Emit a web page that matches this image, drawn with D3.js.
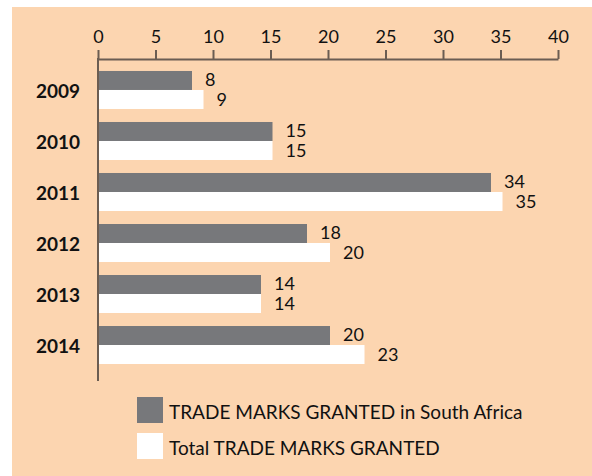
<!DOCTYPE html>
<html>
<head>
<meta charset="utf-8">
<script src="https://cdn.jsdelivr.net/npm/d3@7"></script>
<style>
  html, body { margin: 0; padding: 0; background: #fff; }
  text { font-family: Lato, "Noto Sans", sans-serif; fill: #111; }
</style>
</head>
<body>
<div id="chart"></div>
<script>
const years = ['2009', '2010', '2011', '2012', '2013', '2014'];
const southAfrica = [8, 15, 34, 18, 14, 20];
const total = [9, 15, 35, 20, 14, 23];
const xTicks = [0, 5, 10, 15, 20, 25, 30, 35, 40];
const seriesNames = ['TRADE MARKS GRANTED in South Africa', 'Total TRADE MARKS GRANTED'];
const seriesColors = ['#77787b', '#ffffff'];

const width = 592, height = 476;
const axisColor = '#6b5d52';

const svg = d3.select('#chart').append('svg')
  .attr('width', width).attr('height', height);

svg.append('rect')
  .attr('x', 12).attr('y', 7)
  .attr('width', width - 12).attr('height', height - 7)
  .attr('fill', '#fcd5b0');

const axisY = 59;
const x = d3.scaleLinear().domain([0, 40]).range([98, 558]);
const y = d3.scaleBand().domain(years)
  .range([axisY, 376]).paddingInner(0.255).paddingOuter(0.235);
const sub = d3.scaleBand().domain([0, 1]).range([0, y.bandwidth()]);

// top axis
const xAxis = svg.append('g').attr('transform', `translate(0,${axisY})`)
  .call(d3.axisTop(x).tickValues(xTicks).tickSize(9).tickPadding(7).tickSizeOuter(0));
xAxis.select('.domain').attr('stroke', axisColor).attr('stroke-width', 2);
xAxis.selectAll('.tick line').attr('stroke', axisColor).attr('stroke-width', 2);
xAxis.selectAll('.tick text')
  .attr('fill', '#111').attr('font-size', 18)
  .style('font-family', 'Lato, "Noto Sans", sans-serif');

// left axis line
svg.append('line')
  .attr('x1', x(0)).attr('x2', x(0))
  .attr('y1', axisY - 1).attr('y2', 381)
  .attr('stroke', axisColor).attr('stroke-width', 2);

const rows = years.map((yr, i) => ({ yr, vals: [southAfrica[i], total[i]] }));

const groups = svg.selectAll('g.row').data(rows).join('g')
  .attr('class', 'row')
  .attr('transform', d => `translate(0,${y(d.yr)})`);

groups.selectAll('rect').data(d => d.vals).join('rect')
  .attr('x', x(0) + 1)
  .attr('y', (d, i) => sub(i))
  .attr('width', d => x(d) - x(0) + 1)
  .attr('height', sub.bandwidth())
  .attr('fill', (d, i) => seriesColors[i]);

groups.selectAll('text.val').data(d => d.vals).join('text')
  .attr('class', 'val')
  .attr('x', d => x(d) + 15)
  .attr('y', (d, i) => sub(i) + sub.bandwidth() - (i ? 3 : 4))
  .attr('font-size', 18)
  .text(d => d);

groups.append('text')
  .attr('x', 80)
  .attr('y', y.bandwidth() / 2 + 8)
  .attr('text-anchor', 'end')
  .attr('font-size', 19)
  .attr('font-weight', 700)
  .text(d => d.yr);

// legend
const legend = svg.selectAll('g.legend').data(seriesNames).join('g')
  .attr('class', 'legend')
  .attr('transform', (d, i) => `translate(137,${397 + i * 36})`);

legend.append('rect')
  .attr('width', 26).attr('height', 26)
  .attr('fill', (d, i) => seriesColors[i]);

legend.append('text')
  .attr('x', 32).attr('y', 22)
  .attr('font-size', 19)
  .text(d => d);
</script>
</body>
</html>
